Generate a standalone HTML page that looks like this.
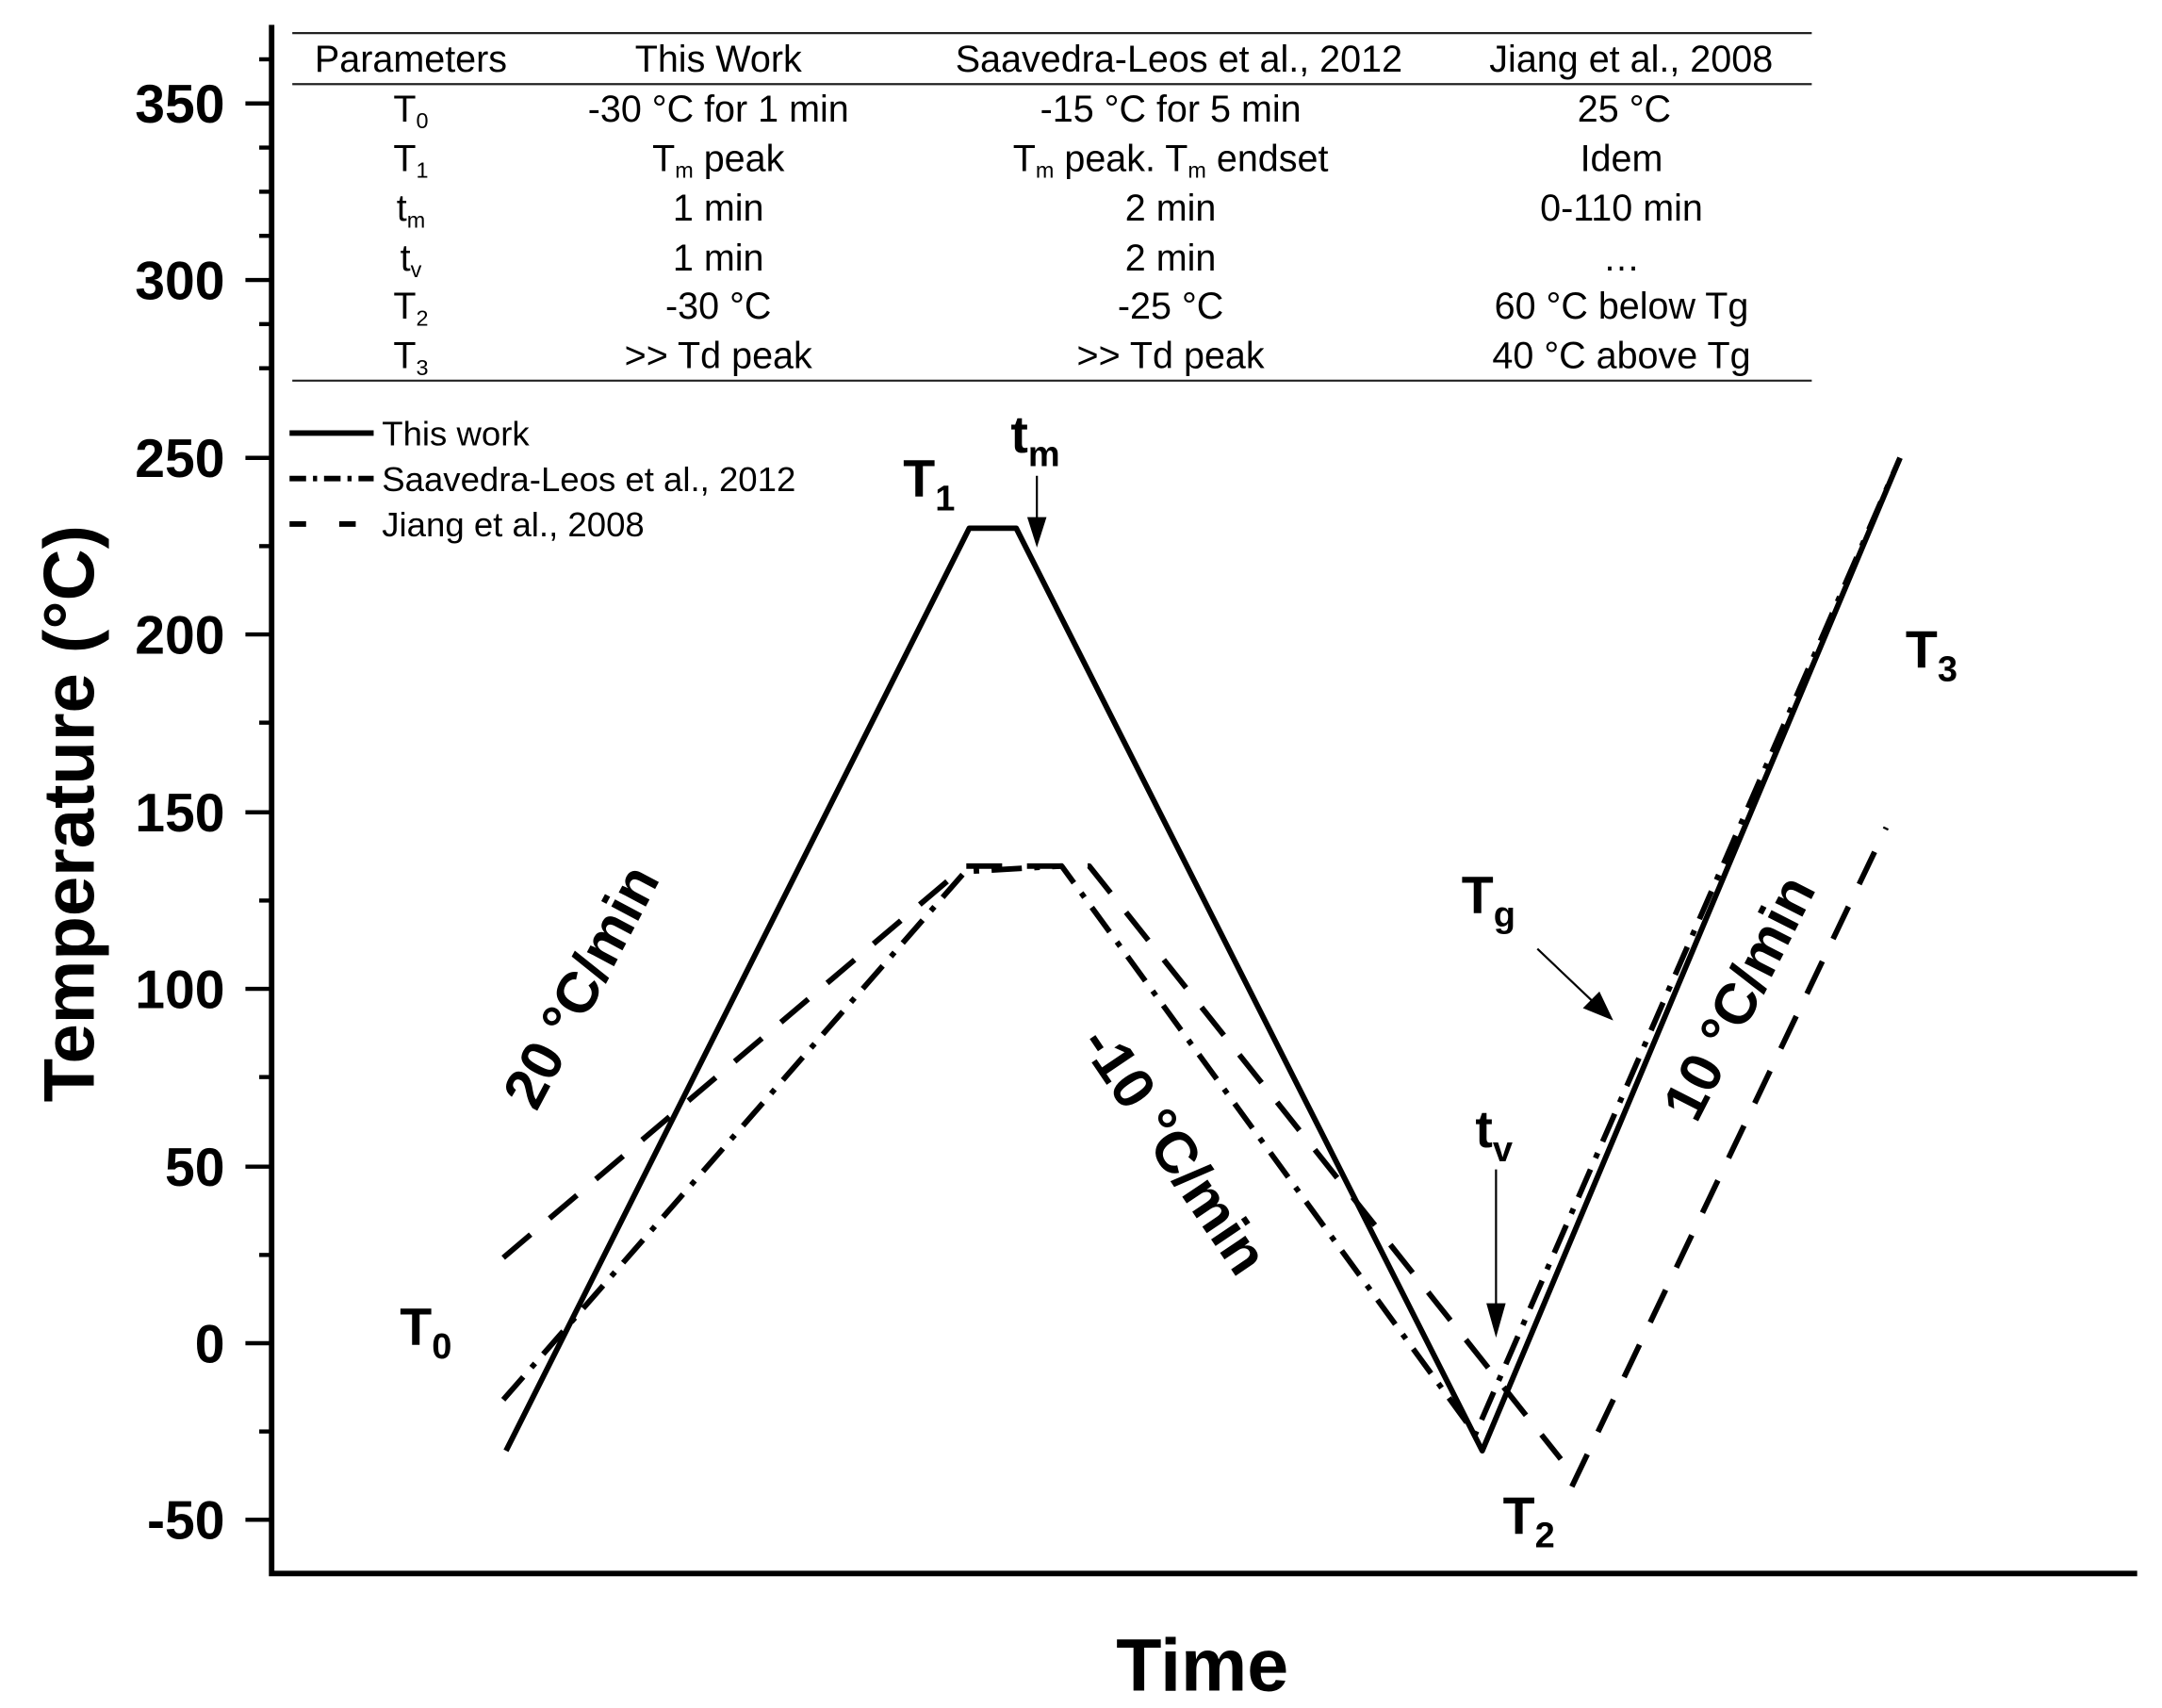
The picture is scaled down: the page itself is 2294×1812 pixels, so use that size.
<!DOCTYPE html>
<html><head><style>html,body{margin:0;padding:0;background:#fff}svg{display:block}</style></head>
<body>
<svg width="2294" height="1812" viewBox="0 0 1568 1238.5" xmlns="http://www.w3.org/2000/svg" font-family="Liberation Sans, sans-serif">
<rect width="1568" height="1238.5" fill="#fff"/>
<path d="M197 18 V1141 H1550" stroke="#000" stroke-width="4" fill="none"/>
<g stroke="#000" stroke-width="3">
<line x1="178" y1="75" x2="197" y2="75"/><line x1="178" y1="203" x2="197" y2="203"/><line x1="178" y1="332" x2="197" y2="332"/><line x1="178" y1="460" x2="197" y2="460"/><line x1="178" y1="589" x2="197" y2="589"/><line x1="178" y1="717" x2="197" y2="717"/><line x1="178" y1="846" x2="197" y2="846"/><line x1="178" y1="974" x2="197" y2="974"/><line x1="178" y1="1102" x2="197" y2="1102"/>
<line x1="188" y1="139" x2="197" y2="139"/><line x1="188" y1="267" x2="197" y2="267"/><line x1="188" y1="396" x2="197" y2="396"/><line x1="188" y1="524" x2="197" y2="524"/><line x1="188" y1="653" x2="197" y2="653"/><line x1="188" y1="781" x2="197" y2="781"/><line x1="188" y1="910" x2="197" y2="910"/><line x1="188" y1="1038" x2="197" y2="1038"/>
<line x1="188" y1="43" x2="197" y2="43"/><line x1="188" y1="107" x2="197" y2="107"/><line x1="188" y1="171" x2="197" y2="171"/><line x1="188" y1="235" x2="197" y2="235"/>
</g>
<g font-size="39" font-weight="bold" text-anchor="end">
<text x="163" y="89">350</text><text x="163" y="217">300</text><text x="163" y="346">250</text><text x="163" y="474">200</text><text x="163" y="603">150</text><text x="163" y="731">100</text><text x="163" y="860">50</text><text x="163" y="988">0</text><text x="163" y="1116">-50</text>
</g>
<text transform="translate(68,590) rotate(-90)" font-size="52" font-weight="bold" text-anchor="middle">Temperature (°C)</text>
<text x="872" y="1226" font-size="54" font-weight="bold" text-anchor="middle">Time</text>
<g stroke="#222" stroke-width="1.5"><line x1="212" y1="24" x2="1314" y2="24"/><line x1="212" y1="61" x2="1314" y2="61"/><line x1="212" y1="276" x2="1314" y2="276"/></g>
<g font-size="27" text-anchor="middle">
<text x="298" y="52">Parameters</text><text x="521" y="52">This Work</text><text x="855" y="52">Saavedra-Leos et al., 2012</text><text x="1183" y="52">Jiang et al., 2008</text>
<text x="298" y="88">T<tspan font-size="16" dy="5">0</tspan></text><text x="521" y="88">-30 °C for 1 min</text><text x="849" y="88">-15 °C for 5 min</text><text x="1178" y="88">25 °C</text>
<text x="298" y="124">T<tspan font-size="16" dy="5">1</tspan></text><text x="521" y="124">T<tspan font-size="16" dy="5">m</tspan><tspan dy="-5"> peak</tspan></text><text x="849" y="124">T<tspan font-size="16" dy="5">m</tspan><tspan dy="-5"> peak. T</tspan><tspan font-size="16" dy="5">m</tspan><tspan dy="-5"> endset</tspan></text><text x="1176" y="124">Idem</text>
<text x="298" y="160">t<tspan font-size="16" dy="5">m</tspan></text><text x="521" y="160">1 min</text><text x="849" y="160">2 min</text><text x="1176" y="160">0-110 min</text>
<text x="298" y="196">t<tspan font-size="16" dy="5">v</tspan></text><text x="521" y="196">1 min</text><text x="849" y="196">2 min</text><text x="1176" y="196">…</text>
<text x="298" y="231">T<tspan font-size="16" dy="5">2</tspan></text><text x="521" y="231">-30 °C</text><text x="849" y="231">-25 °C</text><text x="1176" y="231">60 °C below Tg</text>
<text x="298" y="267">T<tspan font-size="16" dy="5">3</tspan></text><text x="521" y="267">&gt;&gt; Td peak</text><text x="849" y="267">&gt;&gt; Td peak</text><text x="1176" y="267">40 °C above Tg</text>
</g>
<g stroke="#000" stroke-width="4" fill="none">
<line x1="210" y1="314" x2="271" y2="314"/>
<line x1="210" y1="347" x2="271" y2="347" stroke-dasharray="12,5,3,5"/>
<line x1="210" y1="380" x2="271" y2="380" stroke-dasharray="12,24"/>
</g>
<g font-size="25"><text x="277" y="323">This work</text><text x="277" y="356">Saavedra-Leos et al., 2012</text><text x="277" y="389">Jiang et al., 2008</text></g>
<g fill="none" stroke="#000" stroke-width="4" stroke-linejoin="round">
<polyline points="367,1052 703,383 737,383 1075,1052 1378,332"/>
<polyline points="365,1015 700,632 770,628 1070,1040 1378,332" stroke-dasharray="22,9,4,9"/>
<polyline points="365,912 700,628 790,628 1132,1058" stroke-dasharray="26,18"/>
<polyline points="1140,1078 1368,600" stroke-dasharray="26,18"/>
</g>
<g stroke="#000" stroke-width="1.5"><line x1="752" y1="345" x2="752" y2="380"/><line x1="1085" y1="848" x2="1085" y2="950"/><line x1="1115" y1="688" x2="1155" y2="726"/></g>
<polygon points="745,375 759,375 752,397" fill="#000"/>
<polygon points="1078,945 1092,945 1085,970" fill="#000"/>
<polygon points="1148,731 1160,719 1170,740" fill="#000"/>
<g font-weight="bold" font-size="38">
<text x="290" y="975">T<tspan font-size="26" dy="10">0</tspan></text>
<text x="655" y="360">T<tspan font-size="26" dy="10">1</tspan></text>
<text x="733" y="328">t<tspan font-size="26" dy="10">m</tspan></text>
<text x="1090" y="1112">T<tspan font-size="26" dy="10">2</tspan></text>
<text x="1070" y="832">t<tspan font-size="26" dy="10">v</tspan></text>
<text x="1060" y="662">T<tspan font-size="26" dy="10">g</tspan></text>
<text x="1382" y="484">T<tspan font-size="26" dy="10">3</tspan></text>
</g>
<g font-weight="bold" font-size="42" text-anchor="middle">
<text transform="translate(434,722) rotate(-62)">20 °C/min</text>
<text transform="translate(840,842) rotate(56)">-10 °C/min</text>
<text transform="translate(1274,730) rotate(-63)">10 °C/min</text>
</g>
</svg>
</body></html>
